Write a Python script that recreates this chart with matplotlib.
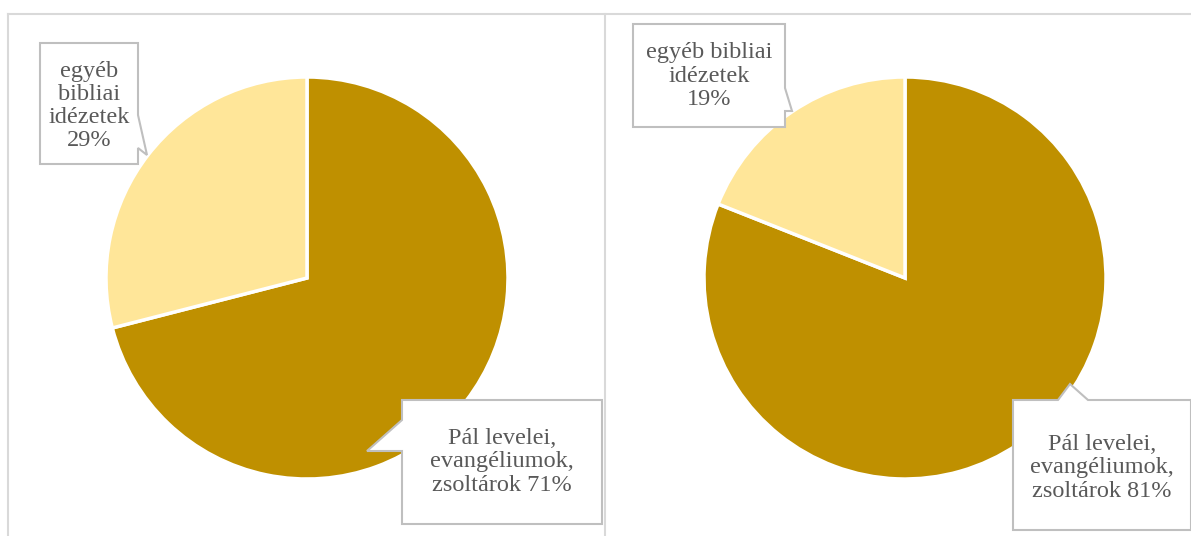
import matplotlib.pyplot as plt
from matplotlib.patches import Polygon

plt.rcParams['font.family'] = ['Liberation Serif', 'DejaVu Serif']

# data
labels = ['Pál levelei, evangéliumok, zsoltárok', 'egyéb bibliai idézetek']
share_left = [71, 29]
share_right = [81, 19]
colors = ['#BF9000', '#FFE699']

W, H = 1191, 536
fig = plt.figure(figsize=(W / 100, H / 100), dpi=100)
ax = fig.add_axes([0, 0, 1, 1])


def yy(y):
    # image rows -> axes coordinates (y up)
    return H - y


def callout(pts, text, cx, cy):
    poly = Polygon([(x, yy(y)) for x, y in pts], closed=True, facecolor='white',
                   edgecolor='#BFBFBF', linewidth=1.5, zorder=5)
    ax.add_patch(poly)
    ax.text(cx, yy(cy), text, ha='center', va='center', fontsize=17.5,
            color='#595959', linespacing=1.13, zorder=6)


ax.pie(share_left, colors=colors, startangle=90, counterclock=False,
       center=(307, yy(278)), radius=201,
       wedgeprops=dict(edgecolor='white', linewidth=2.5))
ax.pie(share_right, colors=colors, startangle=90, counterclock=False,
       center=(905, yy(278)), radius=201,
       wedgeprops=dict(edgecolor='white', linewidth=2.5))

ax.set_xlim(0, W)
ax.set_ylim(0, H)
ax.set_aspect('auto')
ax.axis('off')

# panel borders
ax.plot([8, 8], [yy(14), 0], color='#D9D9D9', lw=1.5)
ax.plot([8, W], [yy(14), yy(14)], color='#D9D9D9', lw=1.5)
ax.plot([605, 605], [yy(14), 0], color='#D9D9D9', lw=1.5)

# left chart labels
callout([(40, 43), (138, 43), (138, 115), (147, 155), (138, 148), (138, 164), (40, 164)],
        'egyéb\nbibliai\nidézetek\n%d%%' % share_left[1], 89, 106)
callout([(402, 400), (602, 400), (602, 524), (402, 524), (402, 451), (367, 451), (402, 420)],
        'Pál levelei,\nevangéliumok,\nzsoltárok %d%%' % share_left[0], 502, 462)

# right chart labels
callout([(633, 24), (785, 24), (785, 88), (792, 111), (785, 111), (785, 127), (633, 127)],
        'egyéb bibliai\nidézetek\n%d%%' % share_right[1], 709, 76)
callout([(1013, 400), (1058, 400), (1070, 384), (1088, 400), (1191, 400), (1191, 530), (1013, 530)],
        'Pál levelei,\nevangéliumok,\nzsoltárok %d%%' % share_right[0], 1102, 468)

fig.savefig('out.png', dpi=100)
